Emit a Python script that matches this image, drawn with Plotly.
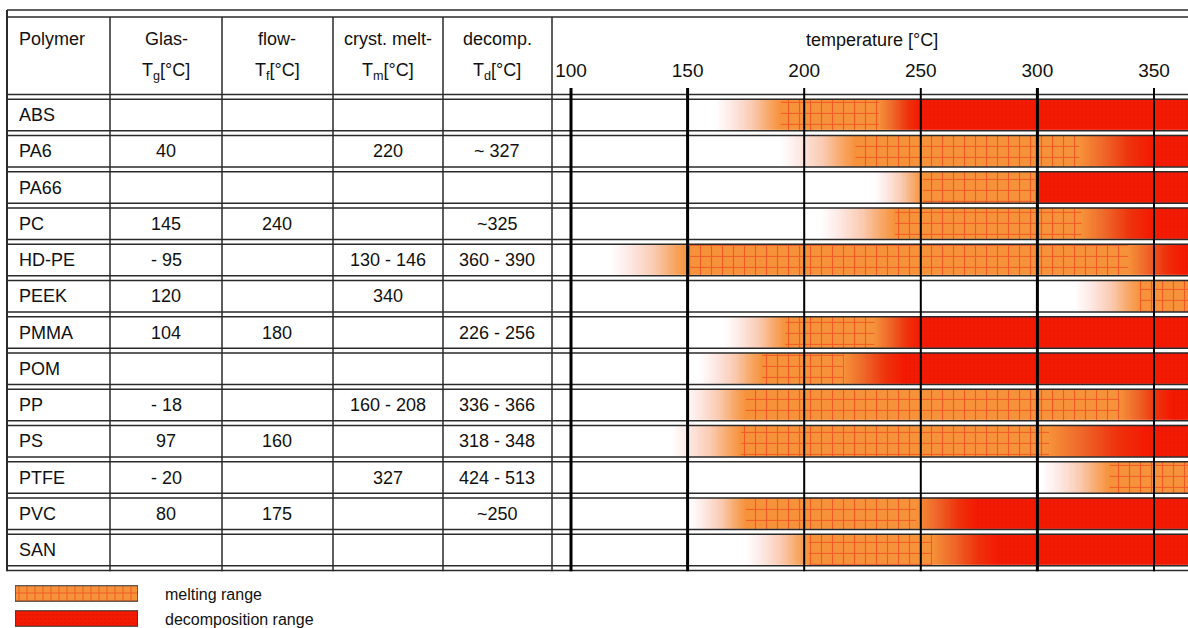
import numpy as np
import plotly.graph_objects as go

W, H = 1188, 628

# ---- table contents ----
polymers = ["ABS", "PA6", "PA66", "PC", "HD-PE", "PEEK", "PMMA", "POM",
            "PP", "PS", "PTFE", "PVC", "SAN"]
glass_temp = ["", "40", "", "145", "- 95", "120", "104", "", "- 18", "97", "- 20", "80", ""]
flow_temp = ["", "", "", "240", "", "", "180", "", "", "160", "", "175", ""]
cryst_melt_temp = ["", "220", "", "", "130 - 146", "340", "", "", "160 - 208", "", "327", "", ""]
decomp_temp = ["", "~ 327", "", "~325", "360 - 390", "", "226 - 256", "", "336 - 366",
               "318 - 348", "424 - 513", "~250", ""]

# ---- processing windows per polymer (°C) ----
soften_start = [162, 190, 230, 207, 117, 316, 166, 155, 148, 143, 302, 151, 175]
melt_start = [190, 222, 251, 239, 150, 344, 192, 182, 175, 173, 331, 175, 202]
melt_end = [232, 318, 299, 319, 339, 400, 230, 217, 335, 305, 400, 248, 255]
decomp_start = [250, 349, 301, 349, 362, 420, 250, 243, 358, 347, 420, 274, 283]

temp_ticks = [100, 150, 200, 250, 300, 350]
bold_ticks = [100, 150, 300]

legend_items = ["melting range", "decomposition range"]

ORANGE = "rgb(246,146,58)"
RED = "rgb(244,26,2)"
HATCH = "rgba(236,24,16,0.95)"


def px_x(x):
    return x / W


def px_y(y):
    return 1 - y / H


# geometry of the table body (pixels)
row_top = 96.875
row_h = 36.25
n_rows = len(polymers)
body_bottom = row_top + row_h * n_rows

# temperature axis scale
px_per_deg = (1154 - 571) / 250.0
t_left = 100 - (571 - 552) / px_per_deg
t_right = 100 + (W - 571) / px_per_deg

temps = np.arange(88.0, 368.0, 0.5)
z = []
for a, b, c, d in zip(soften_start, melt_start, melt_end, decomp_start):
    z.append(np.interp(temps, [a, b, c, d], [0.0, 0.5, 0.5, 1.0], left=0.0, right=1.0))
z = np.array(z)

colorscale = [
    [0.0, "rgb(255,255,255)"],
    [0.12, "rgb(253,234,230)"],
    [0.28, "rgb(250,203,178)"],
    [0.4, "rgb(248,170,108)"],
    [0.5, ORANGE],
    [0.68, "rgb(238,100,40)"],
    [0.85, "rgb(238,50,12)"],
    [1.0, RED],
]

fig = go.Figure()

fig.add_trace(go.Heatmap(
    x=temps, y=list(range(n_rows)), z=z,
    colorscale=colorscale, zmin=0, zmax=1, showscale=False,
    ygap=5, hoverinfo="skip",
))

rows = list(range(n_rows))
# melting range hatch
fig.add_trace(go.Bar(
    orientation="h", y=rows,
    x=[e - s for s, e in zip(melt_start, melt_end)], base=melt_start,
    width=0.855,
    marker=dict(color="rgba(0,0,0,0)", line=dict(width=0),
                pattern=dict(shape="+", fgcolor=HATCH, size=11, solidity=0.2,
                             fillmode="overlay")),
    hoverinfo="skip", showlegend=False,
))
# decomposition texture
fig.add_trace(go.Bar(
    orientation="h", y=rows,
    x=[440 - d for d in decomp_start], base=decomp_start,
    width=0.855,
    marker=dict(color="rgba(0,0,0,0)", line=dict(width=0),
                pattern=dict(shape=".", fgcolor="rgba(150,10,0,0.22)", size=4,
                             solidity=0.3, fillmode="overlay")),
    hoverinfo="skip", showlegend=False,
))

# legend swatches
fig.add_trace(go.Bar(
    orientation="h", y=[0], x=[1], base=[0], width=0.62, xaxis="x2", yaxis="y2",
    marker=dict(color=ORANGE, line=dict(width=1.2, color="#333"),
                pattern=dict(shape="+", fgcolor=HATCH, size=8, solidity=0.22,
                             fillmode="overlay")),
    hoverinfo="skip", showlegend=False,
))
fig.add_trace(go.Bar(
    orientation="h", y=[1], x=[1], base=[0], width=0.62, xaxis="x2", yaxis="y2",
    marker=dict(color=RED, line=dict(width=1.2, color="#333"),
                pattern=dict(shape=".", fgcolor="rgba(150,10,0,0.25)", size=4,
                             solidity=0.3, fillmode="overlay")),
    hoverinfo="skip", showlegend=False,
))

shapes = []
LINE = "#2a2a2a"

# header double rule
for yy in (10, 17):
    shapes.append(dict(type="line", xref="paper", yref="paper",
                       x0=px_x(7), x1=1, y0=px_y(yy), y1=px_y(yy),
                       line=dict(color=LINE, width=1.6), layer="above"))
# double rules between body rows
for k in range(n_rows + 1):
    yb = row_top + row_h * k
    for off in (-2.3, 2.3):
        shapes.append(dict(type="line", xref="paper", yref="paper",
                           x0=px_x(7), x1=1, y0=px_y(yb + off), y1=px_y(yb + off),
                           line=dict(color=LINE, width=1.5), layer="above"))
# column separators
shapes.append(dict(type="line", xref="paper", yref="paper",
                   x0=px_x(7), x1=px_x(7), y0=px_y(10), y1=px_y(body_bottom + 3),
                   line=dict(color=LINE, width=2), layer="above"))
for cx in (110, 222, 333, 443, 552):
    shapes.append(dict(type="line", xref="paper", yref="paper",
                       x0=px_x(cx), x1=px_x(cx), y0=px_y(17), y1=px_y(body_bottom + 3),
                       line=dict(color=LINE, width=1.5), layer="above"))
# temperature grid
for t in temp_ticks:
    shapes.append(dict(type="line", xref="x", yref="paper",
                       x0=t, x1=t, y0=px_y(88), y1=px_y(body_bottom + 3),
                       line=dict(color="black", width=3 if t in bold_ticks else 2),
                       layer="above"))

FONT = "Liberation Sans, Arial, sans-serif"
ann = []


def add_text(text, x, y, anchor="center", size=18):
    ann.append(dict(text=text, x=px_x(x), y=px_y(y), xref="paper", yref="paper",
                    xanchor=anchor, yanchor="middle", showarrow=False,
                    font=dict(family=FONT, size=size, color="#111")))


# header
add_text("Polymer", 17, 39, anchor="left")
col_centers = [166, 277, 388, 497]
header_top = ["Glas-", "flow-", "cryst. melt-", "decomp."]
header_bottom = ["T<sub>g</sub>[°C]", "T<sub>f</sub>[°C]", "T<sub>m</sub>[°C]", "T<sub>d</sub>[°C]"]
for cx, t1, t2 in zip(col_centers, header_top, header_bottom):
    add_text(t1, cx, 39)
    add_text(t2, cx, 71)
add_text("temperature [°C]", 872, 40)

# body
columns = [glass_temp, flow_temp, cryst_melt_temp, decomp_temp]
for i, name in enumerate(polymers):
    yc = row_top + row_h * (i + 0.5)
    add_text(name, 17, yc, anchor="left")
    for cx, col in zip(col_centers, columns):
        if col[i]:
            add_text(col[i], cx, yc)

# legend labels
for j, label in enumerate(legend_items):
    add_text(label, 163, 594 + 25 * j, anchor="left", size=16)

fig.update_layout(
    width=W, height=H,
    margin=dict(l=0, r=0, t=0, b=0),
    paper_bgcolor="white", plot_bgcolor="white",
    barmode="overlay",
    showlegend=False,
    shapes=shapes,
    annotations=ann,
    xaxis=dict(domain=[px_x(552), 1], range=[t_left, t_right], side="top",
               tickvals=temp_ticks, ticks="", showgrid=False, zeroline=False,
               showline=False, ticklabelstandoff=15,
               tickfont=dict(family=FONT, size=19, color="#111")),
    yaxis=dict(domain=[px_y(body_bottom), px_y(row_top)], range=[n_rows - 0.5, -0.5],
               visible=False, showgrid=False, zeroline=False),
    xaxis2=dict(domain=[px_x(15), px_x(138)], range=[0, 1], anchor="y2",
                visible=False, showgrid=False, zeroline=False),
    yaxis2=dict(domain=[px_y(628), px_y(581)], range=[1.38, -0.5], anchor="x2",
                visible=False, showgrid=False, zeroline=False),
)

fig.write_html("out.html")
